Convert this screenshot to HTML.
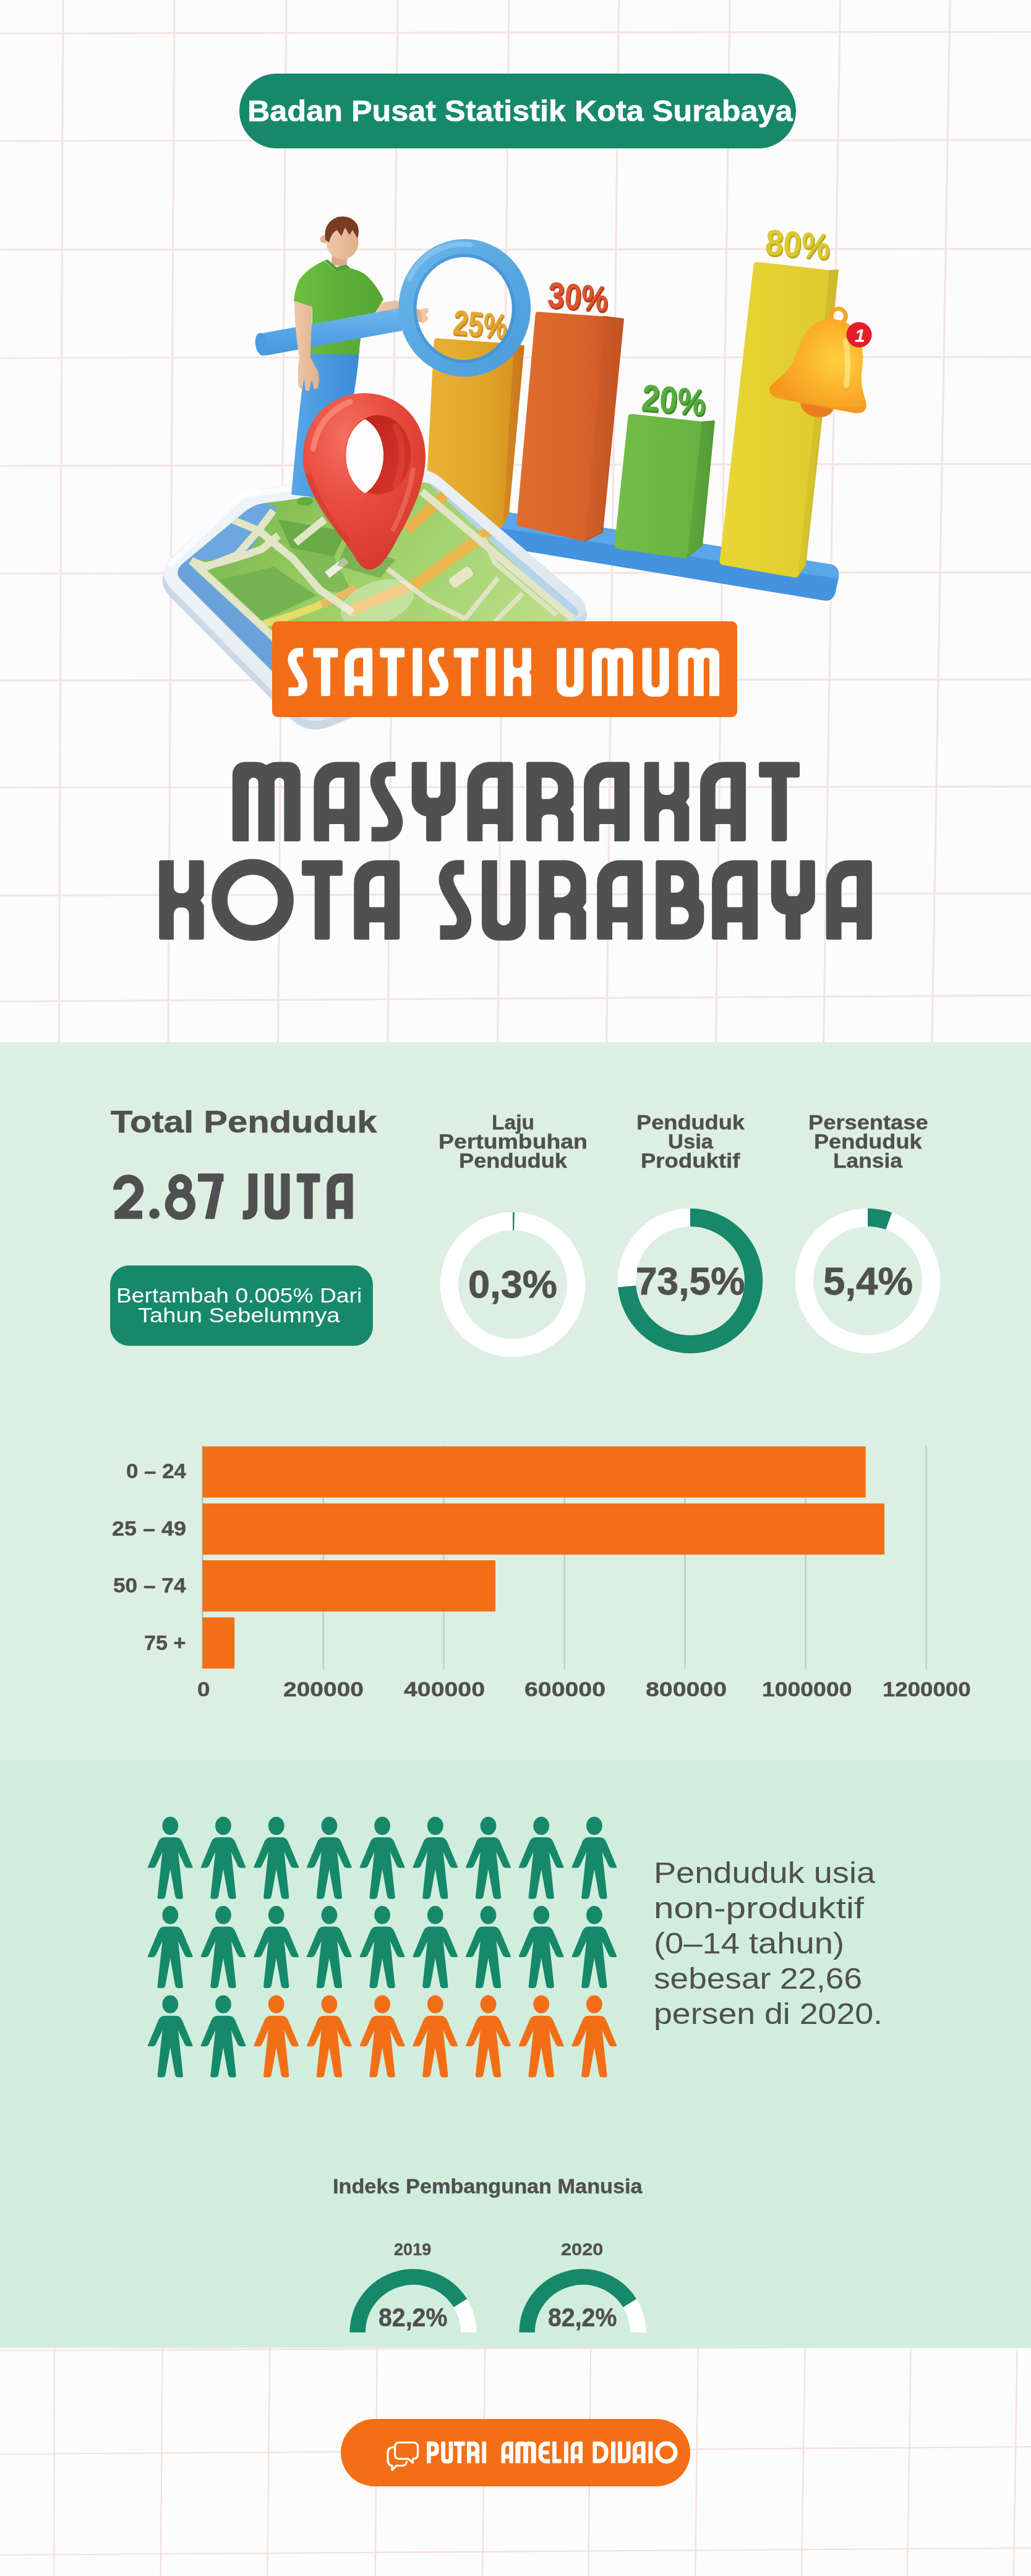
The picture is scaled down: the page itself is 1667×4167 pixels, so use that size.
<!DOCTYPE html>
<html lang="id"><head><meta charset="utf-8"><title>Statistik Umum Masyarakat Kota Surabaya</title>
<style>
html,body{margin:0;padding:0}
body{width:1667px;height:4167px;position:relative;overflow:hidden;background:#fdfcfc;font-family:"Liberation Sans",sans-serif}
.abs{position:absolute;display:block}
.t{position:absolute;white-space:nowrap;transform-origin:0 0;letter-spacing:0}
.b{-webkit-text-stroke:0.012em currentColor}
</style></head><body>
<svg class="abs" style="left:0;top:0;filter:blur(0.7px)" width="1667" height="1690" stroke="#f2e5e3" stroke-width="3.2"><line x1="101.9" y1="0" x2="95.2" y2="1690"/><line x1="282.0" y1="0" x2="271.9" y2="1690"/><line x1="463.0" y1="0" x2="449.5" y2="1690"/><line x1="643.0" y1="0" x2="627.0" y2="1690"/><line x1="823.1" y1="0" x2="804.7" y2="1690"/><line x1="1000.7" y1="0" x2="980.6" y2="1690"/><line x1="1180.1" y1="0" x2="1157.4" y2="1690"/><line x1="1358.5" y1="0" x2="1331.6" y2="1690"/><line x1="1536.1" y1="0" x2="1506.8" y2="1690"/><line x1="0" y1="54.0" x2="1667" y2="51.5"/><line x1="0" y1="228.0" x2="1667" y2="226.4"/><line x1="0" y1="404.0" x2="1667" y2="402.6"/><line x1="0" y1="579.0" x2="1667" y2="577.4"/><line x1="0" y1="754.0" x2="1667" y2="750.3"/><line x1="0" y1="928.0" x2="1667" y2="925.9"/><line x1="0" y1="1101.0" x2="1667" y2="1098.8"/><line x1="0" y1="1274.0" x2="1667" y2="1272.4"/><line x1="0" y1="1448.5" x2="1667" y2="1445.3"/><line x1="0" y1="1620.0" x2="1667" y2="1610.2"/></svg>
<svg class="abs" style="left:0;top:0;filter:blur(0.5px)" width="1667" height="4167" stroke="#f3dfdc" stroke-width="2.2"><line x1="88.1" y1="3797" x2="87.1" y2="4167"/><line x1="262.6" y1="3797" x2="259.7" y2="4167"/><line x1="436.3" y1="3797" x2="432.3" y2="4167"/><line x1="609.7" y1="3797" x2="606.8" y2="4167"/><line x1="784.2" y1="3797" x2="780.2" y2="4167"/><line x1="955.2" y1="3797" x2="951.4" y2="4167"/><line x1="1128.8" y1="3797" x2="1124.1" y2="4167"/><line x1="1301.7" y1="3797" x2="1295.9" y2="4167"/><line x1="1472.8" y1="3797" x2="1467.0" y2="4167"/><line x1="1644.7" y1="3797" x2="1638.9" y2="4167"/><line x1="0" y1="3802" x2="1667" y2="3796"/><line x1="0" y1="3970" x2="1667" y2="3958"/><line x1="0" y1="4133" x2="1667" y2="4121.7"/></svg>
<div class="abs" style="left:0;top:1686px;width:1667px;height:1160px;background:#ddefe3"></div>
<div class="abs" style="left:0;top:2846px;width:1667px;height:951.5px;background:#d1eedd"></div>
<div class="abs" style="left:387px;top:119px;width:900px;height:121px;border-radius:61px;background:#16896a"></div>
<div class="t  b" style="left:400.0px;top:156.1px;font-size:47.67px;line-height:47.67px;font-weight:700;color:#fff;transform:scaleX(1.0568)">Badan Pusat Statistik Kota Surabaya</div>
<svg class="abs" style="left:230px;top:330px" width="1220" height="870" viewBox="230 330 1220 870"><defs>
<linearGradient id="gYO" x1="0" y1="0" x2="1" y2="0"><stop offset="0" stop-color="#e9b236"/><stop offset="0.7" stop-color="#dfa42a"/><stop offset="1" stop-color="#d8951f"/></linearGradient>
<linearGradient id="gYOs" x1="0" y1="0" x2="1" y2="0"><stop offset="0" stop-color="#d68a22"/><stop offset="1" stop-color="#c8741e"/></linearGradient>
<linearGradient id="gOR" x1="0" y1="0" x2="1" y2="0"><stop offset="0" stop-color="#e06d2e"/><stop offset="0.8" stop-color="#d8632a"/><stop offset="1" stop-color="#cf5a26"/></linearGradient>
<linearGradient id="gORs" x1="0" y1="0" x2="1" y2="0"><stop offset="0" stop-color="#d05f28"/><stop offset="1" stop-color="#c25323"/></linearGradient>
<linearGradient id="gGR" x1="0" y1="0" x2="1" y2="0"><stop offset="0" stop-color="#74bd48"/><stop offset="1" stop-color="#68b241"/></linearGradient>
<linearGradient id="gGRs" x1="0" y1="0" x2="1" y2="0"><stop offset="0" stop-color="#60a83d"/><stop offset="1" stop-color="#539c36"/></linearGradient>
<linearGradient id="gYE" x1="0" y1="0" x2="1" y2="0"><stop offset="0" stop-color="#e8d634"/><stop offset="1" stop-color="#dfcb2e"/></linearGradient>
<linearGradient id="gYEs" x1="0" y1="0" x2="1" y2="0"><stop offset="0" stop-color="#dac72d"/><stop offset="1" stop-color="#cdb92a"/></linearGradient>
<linearGradient id="gRing" x1="0" y1="0" x2="1" y2="1"><stop offset="0" stop-color="#6bb6ea"/><stop offset="0.5" stop-color="#58a8e2"/><stop offset="1" stop-color="#4a9bdb"/></linearGradient>
<linearGradient id="gHandle" x1="0" y1="0" x2="0" y2="1"><stop offset="0" stop-color="#72b8ee"/><stop offset="0.5" stop-color="#58a6e5"/><stop offset="1" stop-color="#4796dc"/></linearGradient>
<linearGradient id="gShirt" x1="0" y1="0" x2="1" y2="0"><stop offset="0" stop-color="#6cc040"/><stop offset="0.5" stop-color="#5db038"/><stop offset="1" stop-color="#55a634"/></linearGradient>
<linearGradient id="gPants" x1="0" y1="0" x2="1" y2="0"><stop offset="0" stop-color="#58a7e8"/><stop offset="0.6" stop-color="#4697df"/><stop offset="1" stop-color="#3c8bd5"/></linearGradient>
<linearGradient id="gSkin" x1="0" y1="0" x2="1" y2="0"><stop offset="0" stop-color="#f0c9a8"/><stop offset="1" stop-color="#dfb08c"/></linearGradient>
<radialGradient id="gPin" cx="0.35" cy="0.25" r="0.9"><stop offset="0" stop-color="#f4705f"/><stop offset="0.45" stop-color="#e84a3c"/><stop offset="1" stop-color="#d1362b"/></radialGradient>
<linearGradient id="gPinIn" x1="0" y1="0" x2="1" y2="1"><stop offset="0" stop-color="#b82219"/><stop offset="1" stop-color="#d9372c"/></linearGradient>
<radialGradient id="gBell" cx="0.62" cy="0.45" r="0.75"><stop offset="0" stop-color="#ffd23f"/><stop offset="0.5" stop-color="#fbb02a"/><stop offset="1" stop-color="#f3931d"/></radialGradient>
<linearGradient id="gGlass" x1="0" y1="0" x2="1" y2="1"><stop offset="0" stop-color="#f4f7fa"/><stop offset="0.5" stop-color="#e6edf3"/><stop offset="1" stop-color="#d5dee8"/></linearGradient>
<linearGradient id="gMap" x1="0" y1="0" x2="1" y2="0.4"><stop offset="0" stop-color="#6fae46"/><stop offset="0.5" stop-color="#9ccf66"/><stop offset="1" stop-color="#b9dd86"/></linearGradient>
<linearGradient id="gBaseT" x1="0" y1="0" x2="1" y2="0"><stop offset="0" stop-color="#5ba6e6"/><stop offset="1" stop-color="#64aeea"/></linearGradient>
<clipPath id="cMap"><path d="M396.2,827.6Q410.0,816.0 427.8,813.7L680.1,780.8Q694.0,779.0 704.6,788.1L928.8,981.0Q944.0,994.0 925.1,1000.5L518.9,1139.5Q500.0,1146.0 485.9,1131.8L294.1,939.2Q280.0,925.0 295.3,912.1Z"/></clipPath>
</defs><path d="M780,822L1344,913Q1358,917 1356,934L1351,958Q1346,975 1330,971L780,880Z" fill="#4493de"/><path d="M780,822L1344,913Q1357,917 1355,936L780,850Z" fill="#5aa6e8"/><path d="M830.0,556.0L848.0,559.0L823.0,832.0L812.0,852.0Z" fill="url(#gYOs)" /><path d="M701.7,552.0Q702.0,547.0 707.0,547.3L826.0,555.7Q831.0,556.0 830.7,561.0L813.3,849.0Q813.0,854.0 808.0,854.0L691.0,854.0Q686.0,854.0 686.3,849.0Z" fill="url(#gYO)"/><path d="M976.0,512.0L1008.0,516.0L974.0,861.0L945.0,875.0Z" fill="url(#gORs)" stroke="#c25323" stroke-width="2" stroke-linejoin="round"/><path d="M865.6,509.0Q866.0,504.0 871.0,504.4L973.0,511.6Q978.0,512.0 977.6,517.0L946.4,871.0Q946.0,876.0 941.1,874.9L839.9,851.1Q835.0,850.0 835.4,845.0Z" fill="url(#gOR)"/><path d="M1133.0,683.0L1155.0,681.0L1135.0,882.0L1110.0,902.0Z" fill="url(#gGRs)" stroke="#539c36" stroke-width="2" stroke-linejoin="round"/><path d="M1015.4,675.0Q1016.0,669.0 1022.0,669.7L1129.0,681.3Q1135.0,682.0 1134.4,688.0L1111.6,898.0Q1111.0,904.0 1105.1,903.1L998.9,887.9Q993.0,887.0 993.6,881.0Z" fill="url(#gGR)"/><path d="M1339.0,438.0L1355.0,437.0L1302.0,914.0L1289.0,933.0Z" fill="url(#gYEs)" stroke="#cdb92a" stroke-width="2" stroke-linejoin="round"/><path d="M1218.3,429.0Q1219.0,423.0 1225.0,423.7L1335.0,436.3Q1341.0,437.0 1340.4,443.0L1290.6,929.0Q1290.0,935.0 1284.1,934.0L1168.9,914.0Q1163.0,913.0 1163.7,907.0Z" fill="url(#gYE)"/><g transform="translate(731,540) rotate(5) skewX(0)" font-family="Liberation Sans, sans-serif" font-weight="700" font-size="56" ><text x="2" y="3" fill="#c98a28" textLength="88" lengthAdjust="spacingAndGlyphs">25%</text><text x="1" y="1.5" fill="#c98a28" textLength="88" lengthAdjust="spacingAndGlyphs">25%</text><text x="0" y="0" fill="#e5a932" textLength="88" lengthAdjust="spacingAndGlyphs">25%</text></g><g transform="translate(884,496) rotate(4.5) skewX(0)" font-family="Liberation Sans, sans-serif" font-weight="700" font-size="58" ><text x="2" y="3" fill="#b23d20" textLength="98" lengthAdjust="spacingAndGlyphs">30%</text><text x="1" y="1.5" fill="#b23d20" textLength="98" lengthAdjust="spacingAndGlyphs">30%</text><text x="0" y="0" fill="#dc552e" textLength="98" lengthAdjust="spacingAndGlyphs">30%</text></g><g transform="translate(1036,663) rotate(5) skewX(0)" font-family="Liberation Sans, sans-serif" font-weight="700" font-size="60" ><text x="2" y="3" fill="#3e8d2e" textLength="104" lengthAdjust="spacingAndGlyphs">20%</text><text x="1" y="1.5" fill="#3e8d2e" textLength="104" lengthAdjust="spacingAndGlyphs">20%</text><text x="0" y="0" fill="#58ad3c" textLength="104" lengthAdjust="spacingAndGlyphs">20%</text></g><g transform="translate(1236,411) rotate(4.5) skewX(0)" font-family="Liberation Sans, sans-serif" font-weight="700" font-size="58" ><text x="2" y="3" fill="#bba927" textLength="105" lengthAdjust="spacingAndGlyphs">80%</text><text x="1" y="1.5" fill="#bba927" textLength="105" lengthAdjust="spacingAndGlyphs">80%</text><text x="0" y="0" fill="#dcc92f" textLength="105" lengthAdjust="spacingAndGlyphs">80%</text></g><path d="M363.3,835.8Q397.0,806.0 441.6,800.1L662.3,770.9Q692.0,767.0 714.9,786.4L935.5,974.1Q966.0,1000.0 928.9,1015.0L534.1,1175.0Q497.0,1190.0 468.9,1161.5L276.1,966.5Q248.0,938.0 277.9,911.5Z" fill="#ccd8e3"/><path d="M363.4,823.9Q397.0,794.0 441.6,788.1L662.3,758.9Q692.0,755.0 714.8,774.5L933.6,962.0Q964.0,988.0 926.9,1002.9L534.1,1161.1Q497.0,1176.0 468.9,1147.5L278.1,953.5Q250.0,925.0 279.9,898.4Z" fill="url(#gGlass)"/><path d="M396.2,827.6Q410.0,816.0 427.8,813.7L680.1,780.8Q694.0,779.0 704.6,788.1L928.8,981.0Q944.0,994.0 925.1,1000.5L518.9,1139.5Q500.0,1146.0 485.9,1131.8L294.1,939.2Q280.0,925.0 295.3,912.1Z" fill="url(#gMap)"/><g clip-path="url(#cMap)"><path d="M400.0,806.0L448.0,820.0L430.0,852.0L410.0,882.0L390.0,906.0L312.0,906.0L272.0,925.0Z" fill="#6da7df" /><path d="M272.0,925.0L309.0,905.0L436.0,1025.0L470.0,1150.0L272.0,945.0Z" fill="#6aa2da" /><path d="M686.0,775.0L700.0,775.0L950.0,990.0L930.0,1004.0Z" fill="#b5d3ea" /><path d="M355.0,938.0L442.0,917.0L512.0,963.0L424.0,1004.0Z" fill="#74b350" /><path d="M450.0,840.0L560.0,860.0L540.0,900.0L470.0,886.0Z" fill="#6aab48" /><path d="M470.0,886.0L540.0,900.0L570.0,960.0L520.0,955.0Z" fill="#80bb58" /><path d="M719,801L658,858" stroke="#eab04c" stroke-width="17" fill="none"/><path d="M792,858L674,944L560,990" stroke="#ecb650" stroke-width="18" fill="none" stroke-linejoin="round"/><path d="M424,1010Q500,990 570,954" stroke="#e6dc68" stroke-width="12" fill="none"/><path d="M520,978Q548,968 575,950" stroke="#e9b865" stroke-width="12" fill="none"/><path d="M374,840L418,858L474,904L517,954L570,991" stroke="#e2e5c6" stroke-width="12" fill="none" stroke-linecap="butt" stroke-linejoin="round"/><path d="M442,826L418,858L383,898L334,917L309,907" stroke="#e2e5c6" stroke-width="12" fill="none" stroke-linecap="butt" stroke-linejoin="round"/><path d="M309,907L436,1025L470,1060" stroke="#e2e5c6" stroke-width="12" fill="none" stroke-linecap="butt" stroke-linejoin="round"/><path d="M330,916Q380,905 424,888L450,866" stroke="#e2e5c6" stroke-width="12" fill="none" stroke-linecap="butt" stroke-linejoin="round"/><path d="M525,840L478,878" stroke="#e2e5c6" stroke-width="12" fill="none" stroke-linecap="butt" stroke-linejoin="round"/><path d="M682,795L926,1001" stroke="#e2e5c6" stroke-width="12" fill="none" stroke-linecap="butt" stroke-linejoin="round"/><path d="M782,870L800,910L835,940L900,995" stroke="#dfe3c2" stroke-width="8" fill="none" stroke-linejoin="round"/><path d="M625,919L694,972L752,1001" stroke="#dfe3c2" stroke-width="8" fill="none" stroke-linejoin="round"/><path d="M805,935L752,1001" stroke="#dfe3c2" stroke-width="8" fill="none"/><path d="M845,960L800,1006" stroke="#dfe3c2" stroke-width="8" fill="none"/><path d="M529,930L560,906" stroke="#eef0dd" stroke-width="12" fill="none"/><rect x="-20" y="-9" width="40" height="18" rx="5" fill="#e6e8c6" transform="translate(745.5,933.5) rotate(-35)"/><ellipse cx="610" cy="975" rx="62" ry="34" fill="#ffffff" opacity="0.32" transform="rotate(-20 610 975)"/><path d="M560,880L640,905L615,935L545,915Z" fill="#3f7a2c" opacity="0.35"/></g><path d="M276,912L388,806Q398,798 414,798L470,790" stroke="#ffffff" stroke-width="9" fill="none" opacity="0.75" stroke-linecap="round" stroke-linejoin="round"/><ellipse cx="493" cy="811" rx="13" ry="7" fill="#5db038"/><path d="M499,566L581,566Q578,610 568,660L545,800L520,806L471,800Q480,700 488,632Z" fill="url(#gPants)"/><path d="M537,408L562,412L560,432L536,428Z" fill="#dca987"/><path d="M604,492L640,486L684,503Q694,512 684,522L640,512L610,508Z" fill="url(#gSkin)"/><path d="M680,500L692,498L693,504L688,510L693,514L690,520L683,524Z" fill="#f0c9a8"/><path d="M524,422Q500,432 484,452Q476,470 475,488L505,497Q506,540 499,572L580,574Q584,545 585,516L604,510L620,484Q606,456 588,442Q576,436 567,434L545,440Z" fill="url(#gShirt)"/><path d="M524,421L545,440L567,434L560,428L544,432L530,420Z" fill="#52a231"/><circle cx="524" cy="387" r="6.5" fill="#e2b592"/><ellipse cx="553.5" cy="392" rx="26" ry="27.5" fill="url(#gSkin)"/><path d="M526,388Q522,360 546,351Q568,347 578,364Q582,374 578,386Q574,378 570,372L565,380L558,368L552,382L545,372Q536,376 532,392Z" fill="#7b3b22"/><path d="M424,539L648,498L650,535L430,575Q416,574 414,558Q414,543 424,539Z" fill="url(#gHandle)" transform="translate(0,0)"/><ellipse cx="423" cy="557" rx="10" ry="18.5" fill="#4d9be0" transform="rotate(-10 423 557)"/><path d="M476,487L505,496Q503,540 502,578L514,600Q518,612 514,628L508,630L504,614L500,632L494,632L492,612L488,630L483,626Q480,600 484,578Q476,530 476,487Z" fill="url(#gSkin)"/><path fill-rule="evenodd" fill="url(#gRing)" d="M644.5,498A106.8,111.2 0 1 0 858.1,498A106.8,111.2 0 1 0 644.5,498ZM673.6,499A77.1,83 0 1 1 827.8,499A77.1,83 0 1 1 673.6,499Z"/><ellipse cx="750.7" cy="499" rx="80" ry="86" fill="none" stroke="#3f8bd0" stroke-width="5" opacity="0.55"/><path d="M662,450A95,99 0 0 1 760,396" fill="none" stroke="#8ac6f3" stroke-width="9" stroke-linecap="round" opacity="0.7"/><path d="M589,636C648,636 690,682 688,742C686,792 662,836 638,880Q620,914 604,920Q590,926 578,908C556,868 494,806 490,746C487,684 530,636 589,636Z" fill="url(#gPin)"/><ellipse cx="611.5" cy="735.5" rx="53" ry="64" fill="url(#gPinIn)"/><path d="M640,690Q660,735 640,785" fill="none" stroke="#e04a3e" stroke-width="10" opacity="0.5" stroke-linecap="round"/><path d="M590,678C630,700 630,772 590,798C549,772 549,700 590,678Z" fill="#fefcfc"/><path d="M506,726Q516,670 566,650" fill="none" stroke="#f98e7d" stroke-width="9" stroke-linecap="round" opacity="0.75"/><path d="M668,760Q660,810 636,856" fill="none" stroke="#f47a69" stroke-width="8" stroke-linecap="round" opacity="0.55"/><path d="M500,770Q520,830 560,872" fill="none" stroke="#c9302a" stroke-width="10" stroke-linecap="round" opacity="0.35"/><g transform="rotate(11 1330 590)"><circle cx="1340" cy="508" r="12" fill="none" stroke="#f7a325" stroke-width="7"/><ellipse cx="1334" cy="656" rx="27" ry="19" fill="#ea7e1c"/><path d="M1340,514C1380,514 1392,550 1394,585C1396,615 1408,628 1412,640Q1414,654 1396,656L1268,656Q1250,654 1254,640C1262,626 1280,612 1284,585C1288,548 1300,514 1340,514Z" fill="url(#gBell)"/><path d="M1256,642Q1330,668 1412,642Q1414,654 1396,657L1268,657Q1252,655 1256,642Z" fill="#f39a1f"/><path d="M1360,545Q1372,580 1374,615" fill="none" stroke="#ffe58a" stroke-width="9" stroke-linecap="round" opacity="0.75"/></g><circle cx="1389" cy="541.5" r="20.5" fill="#e31e26"/><text x="1382" y="553" font-family="Liberation Sans, sans-serif" font-weight="700" font-style="italic" font-size="30" fill="#fff">1</text></svg>
<div class="abs" style="left:440px;top:1005px;width:752px;height:154.5px;border-radius:9px;background:#f36f17"></div>
<svg class="abs" style="left:450px;top:1040px" width="730" height="95" viewBox="450 1040 730 95" fill="#fff" role="img" aria-label="STATISTIK UMUM"><title>STATISTIK UMUM</title><g transform="translate(464.9,1048.2) scale(0.6050,0.6050)"><path d="M41.5,11.5H30C18,11.5 12,22 12.5,33C13,43 20,53 27,65C34,77 41.5,85 41.5,97C41.5,109 34,117 24,117H2.6" fill="none" stroke="#fff" stroke-width="23.5" stroke-linejoin="round"/></g><g transform="translate(506.5,1048.2) scale(0.6050,0.6050)"><path d="M3.5,0H62.5A3.5,3.5 0 0 1 66,3.5V21.9A3.5,3.5 0 0 1 62.5,25.4H3.5A3.5,3.5 0 0 1 0,21.9V3.5A3.5,3.5 0 0 1 3.5,0ZM24.3,0H41.8A3.5,3.5 0 0 1 45.3,3.5V125.1A3.5,3.5 0 0 1 41.8,128.6H24.3A3.5,3.5 0 0 1 20.8,125.1V3.5A3.5,3.5 0 0 1 24.3,0Z"/></g><g transform="translate(557.3,1048.2) scale(0.6050,0.6050)"><path d="M36,0H69A5,5 0 0 1 74,5V125.1A3.5,3.5 0 0 1 70.5,128.6H3.5A3.5,3.5 0 0 1 0,125.1V36A36,36 0 0 1 36,0ZM39.7,25.5A15,15 0 0 0 24.7,40.5V74A2,2 0 0 0 26.7,76H47.3A2,2 0 0 0 49.3,74V27.5A2,2 0 0 0 47.3,25.5ZM26.7,100.5A2,2 0 0 0 24.7,102.5V128.6H49.3V102.5A2,2 0 0 0 47.3,100.5Z"/></g><g transform="translate(614.3,1048.2) scale(0.6050,0.6050)"><path d="M3.5,0H62.5A3.5,3.5 0 0 1 66,3.5V21.9A3.5,3.5 0 0 1 62.5,25.4H3.5A3.5,3.5 0 0 1 0,21.9V3.5A3.5,3.5 0 0 1 3.5,0ZM24.3,0H41.8A3.5,3.5 0 0 1 45.3,3.5V125.1A3.5,3.5 0 0 1 41.8,128.6H24.3A3.5,3.5 0 0 1 20.8,125.1V3.5A3.5,3.5 0 0 1 24.3,0Z"/></g><g transform="translate(667.3,1048.2) scale(0.6050,0.6050)"><path d="M3.5,0H21.4A3.5,3.5 0 0 1 24.9,3.5V125.1A3.5,3.5 0 0 1 21.4,128.6H3.5A3.5,3.5 0 0 1 0,125.1V3.5A3.5,3.5 0 0 1 3.5,0Z"/></g><g transform="translate(693,1048.2) scale(0.6050,0.6050)"><path d="M41.5,11.5H30C18,11.5 12,22 12.5,33C13,43 20,53 27,65C34,77 41.5,85 41.5,97C41.5,109 34,117 24,117H2.6" fill="none" stroke="#fff" stroke-width="23.5" stroke-linejoin="round"/></g><g transform="translate(733.6,1048.2) scale(0.6050,0.6050)"><path d="M3.5,0H62.5A3.5,3.5 0 0 1 66,3.5V21.9A3.5,3.5 0 0 1 62.5,25.4H3.5A3.5,3.5 0 0 1 0,21.9V3.5A3.5,3.5 0 0 1 3.5,0ZM24.3,0H41.8A3.5,3.5 0 0 1 45.3,3.5V125.1A3.5,3.5 0 0 1 41.8,128.6H24.3A3.5,3.5 0 0 1 20.8,125.1V3.5A3.5,3.5 0 0 1 24.3,0Z"/></g><g transform="translate(786,1048.2) scale(0.6050,0.6050)"><path d="M3.5,0H21.4A3.5,3.5 0 0 1 24.9,3.5V125.1A3.5,3.5 0 0 1 21.4,128.6H3.5A3.5,3.5 0 0 1 0,125.1V3.5A3.5,3.5 0 0 1 3.5,0Z"/></g><g transform="translate(815,1048.2) scale(0.6050,0.6050)"><path d="M3.5,0H69A3.5,3.5 0 0 1 72.5,3.5V125.1A3.5,3.5 0 0 1 69,128.6H3.5A3.5,3.5 0 0 1 0,125.1V3.5A3.5,3.5 0 0 1 3.5,0ZM23.7,0V43.5A10,10 0 0 0 33.7,53.5H38.4A10,10 0 0 0 48.4,43.5V0ZM33.7,76.6A10,10 0 0 0 23.7,86.6V128.6H48.4V86.6A10,10 0 0 0 38.4,76.6ZM72.5,57L67,65L72.5,73Z"/></g><g transform="translate(900.4,1048.2) scale(0.6050,0.6050)"><path d="M3.5,0H67.5A3.5,3.5 0 0 1 71,3.5V104.1A26,26 0 0 1 45,130.1H26A26,26 0 0 1 0,104.1V3.5A3.5,3.5 0 0 1 3.5,0ZM24.8,0V94.9A10.7,10.7 0 0 0 35.5,105.6H35.5A10.7,10.7 0 0 0 46.2,94.9V0Z"/></g><g transform="translate(957.1,1048.2) scale(0.6050,0.6050)"><path d="M20,0H38.2A30,30 0 0 1 68.2,30V125.1A3.5,3.5 0 0 1 64.7,128.6H3.5A3.5,3.5 0 0 1 0,125.1V20A20,20 0 0 1 20,0ZM71.8,0H90A20,20 0 0 1 110,20V125.1A3.5,3.5 0 0 1 106.5,128.6H45.3A3.5,3.5 0 0 1 41.8,125.1V30A30,30 0 0 1 71.8,0ZM34.1,25.5A7.7,7.7 0 0 0 26.4,33.2V128.6H41.8V33.2A7.7,7.7 0 0 0 34.1,25.5ZM75.9,25.5A7.7,7.7 0 0 0 68.2,33.2V128.6H83.6V33.2A7.7,7.7 0 0 0 75.9,25.5Z"/></g><g transform="translate(1038.6,1048.2) scale(0.6050,0.6050)"><path d="M3.5,0H67.5A3.5,3.5 0 0 1 71,3.5V104.1A26,26 0 0 1 45,130.1H26A26,26 0 0 1 0,104.1V3.5A3.5,3.5 0 0 1 3.5,0ZM24.8,0V94.9A10.7,10.7 0 0 0 35.5,105.6H35.5A10.7,10.7 0 0 0 46.2,94.9V0Z"/></g><g transform="translate(1096.5,1048.2) scale(0.6050,0.6050)"><path d="M20,0H38.2A30,30 0 0 1 68.2,30V125.1A3.5,3.5 0 0 1 64.7,128.6H3.5A3.5,3.5 0 0 1 0,125.1V20A20,20 0 0 1 20,0ZM71.8,0H90A20,20 0 0 1 110,20V125.1A3.5,3.5 0 0 1 106.5,128.6H45.3A3.5,3.5 0 0 1 41.8,125.1V30A30,30 0 0 1 71.8,0ZM34.1,25.5A7.7,7.7 0 0 0 26.4,33.2V128.6H41.8V33.2A7.7,7.7 0 0 0 34.1,25.5ZM75.9,25.5A7.7,7.7 0 0 0 68.2,33.2V128.6H83.6V33.2A7.7,7.7 0 0 0 75.9,25.5Z"/></g></svg>
<svg class="abs" style="left:360px;top:1220px" width="950" height="150" viewBox="360 1220 950 150" fill="#505050" role="img" aria-label="MASYARAKAT"><title>MASYARAKAT</title><g transform="translate(375.8,1232.4) scale(1.0000,1.0000)"><path d="M20,0H38.2A30,30 0 0 1 68.2,30V125.1A3.5,3.5 0 0 1 64.7,128.6H3.5A3.5,3.5 0 0 1 0,125.1V20A20,20 0 0 1 20,0ZM71.8,0H90A20,20 0 0 1 110,20V125.1A3.5,3.5 0 0 1 106.5,128.6H45.3A3.5,3.5 0 0 1 41.8,125.1V30A30,30 0 0 1 71.8,0ZM34.1,25.5A7.7,7.7 0 0 0 26.4,33.2V128.6H41.8V33.2A7.7,7.7 0 0 0 34.1,25.5ZM75.9,25.5A7.7,7.7 0 0 0 68.2,33.2V128.6H83.6V33.2A7.7,7.7 0 0 0 75.9,25.5Z"/></g><g transform="translate(507.4,1232.4) scale(1.0000,1.0000)"><path d="M36,0H69A5,5 0 0 1 74,5V125.1A3.5,3.5 0 0 1 70.5,128.6H3.5A3.5,3.5 0 0 1 0,125.1V36A36,36 0 0 1 36,0ZM39.7,25.5A15,15 0 0 0 24.7,40.5V74A2,2 0 0 0 26.7,76H47.3A2,2 0 0 0 49.3,74V27.5A2,2 0 0 0 47.3,25.5ZM26.7,100.5A2,2 0 0 0 24.7,102.5V128.6H49.3V102.5A2,2 0 0 0 47.3,100.5Z"/></g><g transform="translate(598,1232.4) scale(1.0000,1.0000)"><path d="M41.5,11.5H30C18,11.5 12,22 12.5,33C13,43 20,53 27,65C34,77 41.5,85 41.5,97C41.5,109 34,117 24,117H2.6" fill="none" stroke="#505050" stroke-width="23.5" stroke-linejoin="round"/></g><g transform="translate(665.7,1232.4) scale(1.0000,1.0000)"><path d="M3.5,0H67.5A3.5,3.5 0 0 1 71,3.5V62A26,26 0 0 1 45,88H26A26,26 0 0 1 0,62V3.5A3.5,3.5 0 0 1 3.5,0ZM23.3,58H47.7V125.1A3.5,3.5 0 0 1 44.2,128.6H26.8A3.5,3.5 0 0 1 23.3,125.1V58ZM24.4,0V49A11,11 0 0 0 35.4,60H35.6A11,11 0 0 0 46.6,49V0Z"/></g><g transform="translate(755.5,1232.4) scale(1.0000,1.0000)"><path d="M36,0H69A5,5 0 0 1 74,5V125.1A3.5,3.5 0 0 1 70.5,128.6H3.5A3.5,3.5 0 0 1 0,125.1V36A36,36 0 0 1 36,0ZM39.7,25.5A15,15 0 0 0 24.7,40.5V74A2,2 0 0 0 26.7,76H47.3A2,2 0 0 0 49.3,74V27.5A2,2 0 0 0 47.3,25.5ZM26.7,100.5A2,2 0 0 0 24.7,102.5V128.6H49.3V102.5A2,2 0 0 0 47.3,100.5Z"/></g><g transform="translate(851,1232.4) scale(1.0000,1.0000)"><path d="M3.5,0H43.5A33,33 0 0 1 76.5,33V125.1A3.5,3.5 0 0 1 73,128.6H3.5A3.5,3.5 0 0 1 0,125.1V3.5A3.5,3.5 0 0 1 3.5,0ZM26.7,25.5A2,2 0 0 0 24.7,27.5V58A2,2 0 0 0 26.7,60H35.2A16,16 0 0 0 51.2,44V41.5A16,16 0 0 0 35.2,25.5ZM33.7,85A9,9 0 0 0 24.7,94V128.6H51.2V94A9,9 0 0 0 42.2,85ZM76.5,69L71,76.5L76.5,84Z"/></g><g transform="translate(944,1232.4) scale(1.0000,1.0000)"><path d="M36,0H69A5,5 0 0 1 74,5V125.1A3.5,3.5 0 0 1 70.5,128.6H3.5A3.5,3.5 0 0 1 0,125.1V36A36,36 0 0 1 36,0ZM39.7,25.5A15,15 0 0 0 24.7,40.5V74A2,2 0 0 0 26.7,76H47.3A2,2 0 0 0 49.3,74V27.5A2,2 0 0 0 47.3,25.5ZM26.7,100.5A2,2 0 0 0 24.7,102.5V128.6H49.3V102.5A2,2 0 0 0 47.3,100.5Z"/></g><g transform="translate(1041.8,1232.4) scale(1.0000,1.0000)"><path d="M3.5,0H69A3.5,3.5 0 0 1 72.5,3.5V125.1A3.5,3.5 0 0 1 69,128.6H3.5A3.5,3.5 0 0 1 0,125.1V3.5A3.5,3.5 0 0 1 3.5,0ZM23.7,0V43.5A10,10 0 0 0 33.7,53.5H38.4A10,10 0 0 0 48.4,43.5V0ZM33.7,76.6A10,10 0 0 0 23.7,86.6V128.6H48.4V86.6A10,10 0 0 0 38.4,76.6ZM72.5,57L67,65L72.5,73Z"/></g><g transform="translate(1132,1232.4) scale(1.0000,1.0000)"><path d="M36,0H69A5,5 0 0 1 74,5V125.1A3.5,3.5 0 0 1 70.5,128.6H3.5A3.5,3.5 0 0 1 0,125.1V36A36,36 0 0 1 36,0ZM39.7,25.5A15,15 0 0 0 24.7,40.5V74A2,2 0 0 0 26.7,76H47.3A2,2 0 0 0 49.3,74V27.5A2,2 0 0 0 47.3,25.5ZM26.7,100.5A2,2 0 0 0 24.7,102.5V128.6H49.3V102.5A2,2 0 0 0 47.3,100.5Z"/></g><g transform="translate(1227,1232.4) scale(1.0000,1.0000)"><path d="M3.5,0H62.5A3.5,3.5 0 0 1 66,3.5V21.9A3.5,3.5 0 0 1 62.5,25.4H3.5A3.5,3.5 0 0 1 0,21.9V3.5A3.5,3.5 0 0 1 3.5,0ZM24.3,0H41.8A3.5,3.5 0 0 1 45.3,3.5V125.1A3.5,3.5 0 0 1 41.8,128.6H24.3A3.5,3.5 0 0 1 20.8,125.1V3.5A3.5,3.5 0 0 1 24.3,0Z"/></g></svg>
<svg class="abs" style="left:245px;top:1380px" width="1180" height="150" viewBox="245 1380 1180 150" fill="#505050" role="img" aria-label="KOTA SURABAYA"><title>KOTA SURABAYA</title><g transform="translate(257.2,1391.4) scale(1.0000,1.0000)"><path d="M3.5,0H69A3.5,3.5 0 0 1 72.5,3.5V125.1A3.5,3.5 0 0 1 69,128.6H3.5A3.5,3.5 0 0 1 0,125.1V3.5A3.5,3.5 0 0 1 3.5,0ZM23.7,0V43.5A10,10 0 0 0 33.7,53.5H38.4A10,10 0 0 0 48.4,43.5V0ZM33.7,76.6A10,10 0 0 0 23.7,86.6V128.6H48.4V86.6A10,10 0 0 0 38.4,76.6ZM72.5,57L67,65L72.5,73Z"/></g><g transform="translate(342.2,1391.4) scale(1.0000,1.0000)"><circle cx="66.3" cy="64.3" r="53.5" fill="none" stroke="#505050" stroke-width="25.6"/></g><g transform="translate(488,1391.4) scale(1.0000,1.0000)"><path d="M3.5,0H62.5A3.5,3.5 0 0 1 66,3.5V21.9A3.5,3.5 0 0 1 62.5,25.4H3.5A3.5,3.5 0 0 1 0,21.9V3.5A3.5,3.5 0 0 1 3.5,0ZM24.3,0H41.8A3.5,3.5 0 0 1 45.3,3.5V125.1A3.5,3.5 0 0 1 41.8,128.6H24.3A3.5,3.5 0 0 1 20.8,125.1V3.5A3.5,3.5 0 0 1 24.3,0Z"/></g><g transform="translate(572.3,1391.4) scale(1.0000,1.0000)"><path d="M36,0H69A5,5 0 0 1 74,5V125.1A3.5,3.5 0 0 1 70.5,128.6H3.5A3.5,3.5 0 0 1 0,125.1V36A36,36 0 0 1 36,0ZM39.7,25.5A15,15 0 0 0 24.7,40.5V74A2,2 0 0 0 26.7,76H47.3A2,2 0 0 0 49.3,74V27.5A2,2 0 0 0 47.3,25.5ZM26.7,100.5A2,2 0 0 0 24.7,102.5V128.6H49.3V102.5A2,2 0 0 0 47.3,100.5Z"/></g><g transform="translate(708.9,1391.4) scale(1.0000,1.0000)"><path d="M41.5,11.5H30C18,11.5 12,22 12.5,33C13,43 20,53 27,65C34,77 41.5,85 41.5,97C41.5,109 34,117 24,117H2.6" fill="none" stroke="#505050" stroke-width="23.5" stroke-linejoin="round"/></g><g transform="translate(779,1391.4) scale(1.0000,1.0000)"><path d="M3.5,0H67.5A3.5,3.5 0 0 1 71,3.5V104.1A26,26 0 0 1 45,130.1H26A26,26 0 0 1 0,104.1V3.5A3.5,3.5 0 0 1 3.5,0ZM24.8,0V94.9A10.7,10.7 0 0 0 35.5,105.6H35.5A10.7,10.7 0 0 0 46.2,94.9V0Z"/></g><g transform="translate(871.3,1391.4) scale(1.0000,1.0000)"><path d="M3.5,0H43.5A33,33 0 0 1 76.5,33V125.1A3.5,3.5 0 0 1 73,128.6H3.5A3.5,3.5 0 0 1 0,125.1V3.5A3.5,3.5 0 0 1 3.5,0ZM26.7,25.5A2,2 0 0 0 24.7,27.5V58A2,2 0 0 0 26.7,60H35.2A16,16 0 0 0 51.2,44V41.5A16,16 0 0 0 35.2,25.5ZM33.7,85A9,9 0 0 0 24.7,94V128.6H51.2V94A9,9 0 0 0 42.2,85ZM76.5,69L71,76.5L76.5,84Z"/></g><g transform="translate(965.3,1391.4) scale(1.0000,1.0000)"><path d="M36,0H69A5,5 0 0 1 74,5V125.1A3.5,3.5 0 0 1 70.5,128.6H3.5A3.5,3.5 0 0 1 0,125.1V36A36,36 0 0 1 36,0ZM39.7,25.5A15,15 0 0 0 24.7,40.5V74A2,2 0 0 0 26.7,76H47.3A2,2 0 0 0 49.3,74V27.5A2,2 0 0 0 47.3,25.5ZM26.7,100.5A2,2 0 0 0 24.7,102.5V128.6H49.3V102.5A2,2 0 0 0 47.3,100.5Z"/></g><g transform="translate(1060.3,1391.4) scale(1.0000,1.0000)"><path d="M3.5,0H40A30,30 0 0 1 70,30V64A8,8 0 0 1 62,72H0V3.5A3.5,3.5 0 0 1 3.5,0ZM0,62H64A14,14 0 0 1 78,76V95.6A33,33 0 0 1 45,128.6H3.5A3.5,3.5 0 0 1 0,125.1V62ZM26.4,24.7A2,2 0 0 0 24.4,26.7V50.7A2,2 0 0 0 26.4,52.7H32.2A13,13 0 0 0 45.2,39.7V37.7A13,13 0 0 0 32.2,24.7ZM26.4,75.9A2,2 0 0 0 24.4,77.9V101.9A2,2 0 0 0 26.4,103.9H39.4A14,14 0 0 0 53.4,89.9V89.9A14,14 0 0 0 39.4,75.9Z"/></g><g transform="translate(1151.1,1391.4) scale(1.0000,1.0000)"><path d="M36,0H69A5,5 0 0 1 74,5V125.1A3.5,3.5 0 0 1 70.5,128.6H3.5A3.5,3.5 0 0 1 0,125.1V36A36,36 0 0 1 36,0ZM39.7,25.5A15,15 0 0 0 24.7,40.5V74A2,2 0 0 0 26.7,76H47.3A2,2 0 0 0 49.3,74V27.5A2,2 0 0 0 47.3,25.5ZM26.7,100.5A2,2 0 0 0 24.7,102.5V128.6H49.3V102.5A2,2 0 0 0 47.3,100.5Z"/></g><g transform="translate(1246.8,1391.4) scale(1.0000,1.0000)"><path d="M3.5,0H67.5A3.5,3.5 0 0 1 71,3.5V62A26,26 0 0 1 45,88H26A26,26 0 0 1 0,62V3.5A3.5,3.5 0 0 1 3.5,0ZM23.3,58H47.7V125.1A3.5,3.5 0 0 1 44.2,128.6H26.8A3.5,3.5 0 0 1 23.3,125.1V58ZM24.4,0V49A11,11 0 0 0 35.4,60H35.6A11,11 0 0 0 46.6,49V0Z"/></g><g transform="translate(1335.8,1391.4) scale(1.0000,1.0000)"><path d="M36,0H69A5,5 0 0 1 74,5V125.1A3.5,3.5 0 0 1 70.5,128.6H3.5A3.5,3.5 0 0 1 0,125.1V36A36,36 0 0 1 36,0ZM39.7,25.5A15,15 0 0 0 24.7,40.5V74A2,2 0 0 0 26.7,76H47.3A2,2 0 0 0 49.3,74V27.5A2,2 0 0 0 47.3,25.5ZM26.7,100.5A2,2 0 0 0 24.7,102.5V128.6H49.3V102.5A2,2 0 0 0 47.3,100.5Z"/></g></svg>
<div class="t  b" style="left:178.9px;top:1789.8px;font-size:50.58px;line-height:50.58px;font-weight:700;color:#505050;transform:scaleX(1.1464)">Total Penduduk</div>
<svg class="abs" style="left:175px;top:1890px" width="410" height="90" viewBox="175 1890 410 90" fill="#505050" role="img" aria-label="2.87 JUTA"><title>2.87 JUTA</title><g transform="translate(183.1,1898.3) scale(0.5715,0.5715)"><path d="M12,46A30.9,30.9 0 0 1 73.8,46C73.8,62 60,72 12,118" fill="none" stroke="#505050" stroke-width="24.2" stroke-linejoin="round"/><path d="M4,116.7H82" fill="none" stroke="#505050" stroke-width="23.8" stroke-linejoin="round"/></g><g transform="translate(241.2,1898.3) scale(0.5715,0.5715)"><circle cx="14.65" cy="113.95" r="14.65"/></g><g transform="translate(266.7,1898.3) scale(0.5715,0.5715)"><circle cx="43.2" cy="35" r="22.2" fill="none" stroke="#505050" stroke-width="22.3"/><circle cx="43.2" cy="88.3" r="31.9" fill="none" stroke="#505050" stroke-width="22.6"/></g><g transform="translate(320,1898.3) scale(0.5715,0.5715)"><path d="M3.5,0H69.1A3.5,3.5 0 0 1 72.6,3.5V23.2H0V3.5A3.5,3.5 0 0 1 3.5,0ZM46.5,10L72.6,2L47,128.6H20Z"/></g><g transform="translate(392.6,1898.3) scale(0.5715,0.5715)"><path d="M28.6,0V96Q28.6,117.5 8,117.5H0" fill="none" stroke="#505050" stroke-width="25.5" stroke-linejoin="round"/></g><g transform="translate(427.9,1898.3) scale(0.5715,0.5715)"><path d="M3.5,0H67.5A3.5,3.5 0 0 1 71,3.5V104.1A26,26 0 0 1 45,130.1H26A26,26 0 0 1 0,104.1V3.5A3.5,3.5 0 0 1 3.5,0ZM24.8,0V94.9A10.7,10.7 0 0 0 35.5,105.6H35.5A10.7,10.7 0 0 0 46.2,94.9V0Z"/></g><g transform="translate(479.8,1898.3) scale(0.5715,0.5715)"><path d="M3.5,0H62.5A3.5,3.5 0 0 1 66,3.5V21.9A3.5,3.5 0 0 1 62.5,25.4H3.5A3.5,3.5 0 0 1 0,21.9V3.5A3.5,3.5 0 0 1 3.5,0ZM24.3,0H41.8A3.5,3.5 0 0 1 45.3,3.5V125.1A3.5,3.5 0 0 1 41.8,128.6H24.3A3.5,3.5 0 0 1 20.8,125.1V3.5A3.5,3.5 0 0 1 24.3,0Z"/></g><g transform="translate(528.3,1898.3) scale(0.5715,0.5715)"><path d="M36,0H69A5,5 0 0 1 74,5V125.1A3.5,3.5 0 0 1 70.5,128.6H3.5A3.5,3.5 0 0 1 0,125.1V36A36,36 0 0 1 36,0ZM39.7,25.5A15,15 0 0 0 24.7,40.5V74A2,2 0 0 0 26.7,76H47.3A2,2 0 0 0 49.3,74V27.5A2,2 0 0 0 47.3,25.5ZM26.7,100.5A2,2 0 0 0 24.7,102.5V128.6H49.3V102.5A2,2 0 0 0 47.3,100.5Z"/></g></svg>
<div class="abs" style="left:178px;top:2046.7px;width:425px;height:130.7px;border-radius:31px;background:#16896a"></div>
<div class="t " style="left:187.8px;top:2079.3px;font-size:33.72px;line-height:33.72px;font-weight:400;color:#fff;transform:scaleX(1.1037)">Bertambah 0.005% Dari</div>
<div class="t " style="left:222.6px;top:2110.5px;font-size:33.72px;line-height:33.72px;font-weight:400;color:#fff;transform:scaleX(1.1312)">Tahun Sebelumnya</div>
<div class="t  b" style="left:794.5px;top:1799.8px;font-size:32.41px;line-height:32.41px;font-weight:700;color:#505050;transform:scaleX(1.0356)">Laju</div>
<div class="t  b" style="left:708.5px;top:1831.0px;font-size:32.41px;line-height:32.41px;font-weight:700;color:#505050;transform:scaleX(1.1537)">Pertumbuhan</div>
<div class="t  b" style="left:741.5px;top:1862.2px;font-size:32.41px;line-height:32.41px;font-weight:700;color:#505050;transform:scaleX(1.1170)">Penduduk</div>
<div class="t  b" style="left:1029.1px;top:1799.8px;font-size:32.41px;line-height:32.41px;font-weight:700;color:#505050;transform:scaleX(1.1170)">Penduduk</div>
<div class="t  b" style="left:1080.1px;top:1831.0px;font-size:32.41px;line-height:32.41px;font-weight:700;color:#505050;transform:scaleX(1.0662)">Usia</div>
<div class="t  b" style="left:1036.4px;top:1862.2px;font-size:32.41px;line-height:32.41px;font-weight:700;color:#505050;transform:scaleX(1.1276)">Produktif</div>
<div class="t  b" style="left:1306.5px;top:1799.8px;font-size:32.41px;line-height:32.41px;font-weight:700;color:#505050;transform:scaleX(1.1197)">Persentase</div>
<div class="t  b" style="left:1316.0px;top:1831.0px;font-size:32.41px;line-height:32.41px;font-weight:700;color:#505050;transform:scaleX(1.1144)">Penduduk</div>
<div class="t  b" style="left:1347.3px;top:1862.2px;font-size:32.41px;line-height:32.41px;font-weight:700;color:#505050;transform:scaleX(1.0907)">Lansia</div>
<svg class="abs" style="left:708.6px;top:1958px" width="240" height="240" viewBox="708.6 1958 240 240"><circle cx="828.6" cy="2078" r="102.6" fill="none" stroke="#fff" stroke-width="29.3"/><circle cx="828.6" cy="2078" r="102.6" fill="none" stroke="#16896a" stroke-width="29.3" stroke-dasharray="2.58 644.65" transform="rotate(-90 828.6 2078)"/></svg><div class="t  b" style="left:756.6px;top:2046.0px;font-size:63.23px;line-height:63.23px;font-weight:700;color:#505050;transform:scaleX(0.9992)">0,3%</div>
<svg class="abs" style="left:996.3px;top:1952px" width="240" height="240" viewBox="996.3 1952 240 240"><circle cx="1116.3" cy="2072" r="102.6" fill="none" stroke="#fff" stroke-width="29.3"/><circle cx="1116.3" cy="2072" r="102.6" fill="none" stroke="#16896a" stroke-width="29.3" stroke-dasharray="473.82 644.65" transform="rotate(-90 1116.3 2072)"/></svg><div class="t  b" style="left:1028.0px;top:2041.0px;font-size:63.23px;line-height:63.23px;font-weight:700;color:#505050;transform:scaleX(0.9845)">73,5%</div>
<svg class="abs" style="left:1283.2px;top:1952px" width="240" height="240" viewBox="1283.2 1952 240 240"><circle cx="1403.2" cy="2072" r="102.6" fill="none" stroke="#fff" stroke-width="29.3"/><circle cx="1403.2" cy="2072" r="102.6" fill="none" stroke="#16896a" stroke-width="29.3" stroke-dasharray="34.81 644.65" transform="rotate(-90 1403.2 2072)"/></svg><div class="t  b" style="left:1330.7px;top:2041.0px;font-size:63.23px;line-height:63.23px;font-weight:700;color:#505050;transform:scaleX(1.0062)">5,4%</div>
<svg class="abs" style="left:300px;top:2330px" width="1220" height="380" viewBox="300 2330 1220 380"><rect x="521.6" y="2339" width="2" height="360.5" fill="#b7c7bd"/><rect x="716.6" y="2339" width="2" height="360.5" fill="#b7c7bd"/><rect x="911.6" y="2339" width="2" height="360.5" fill="#b7c7bd"/><rect x="1106.6" y="2339" width="2" height="360.5" fill="#b7c7bd"/><rect x="1301.6" y="2339" width="2" height="360.5" fill="#b7c7bd"/><rect x="1496.6" y="2339" width="2" height="360.5" fill="#b7c7bd"/><rect x="326.4" y="2339" width="2" height="360.5" fill="#a9b9af"/><rect x="327.6" y="2339.7" width="1072.0" height="82.8" fill="#f36f17"/><rect x="327.6" y="2432" width="1102.4" height="82.8" fill="#f36f17"/><rect x="327.6" y="2524" width="473.4" height="82.8" fill="#f36f17"/><rect x="327.6" y="2616.3" width="51.6" height="82.8" fill="#f36f17"/></svg>
<div class="t  b" style="left:203.8px;top:2363.3px;font-size:33.87px;line-height:33.87px;font-weight:700;color:#505050;transform:scaleX(1.0302)">0 – 24</div>
<div class="t  b" style="left:180.8px;top:2455.7px;font-size:33.87px;line-height:33.87px;font-weight:700;color:#505050;transform:scaleX(1.0620)">25 – 49</div>
<div class="t  b" style="left:183.3px;top:2547.9px;font-size:33.87px;line-height:33.87px;font-weight:700;color:#505050;transform:scaleX(1.0399)">50 – 74</div>
<div class="t  b" style="left:233.3px;top:2640.8px;font-size:33.87px;line-height:33.87px;font-weight:700;color:#505050;transform:scaleX(1.0096)">75 +</div>
<div class="t  b" style="left:318.8px;top:2715.5px;font-size:33.87px;line-height:33.87px;font-weight:700;color:#505050;transform:scaleX(1.0884)">0</div>
<div class="t  b" style="left:458.0px;top:2715.5px;font-size:33.87px;line-height:33.87px;font-weight:700;color:#505050;transform:scaleX(1.1503)">200000</div>
<div class="t  b" style="left:652.5px;top:2715.5px;font-size:33.87px;line-height:33.87px;font-weight:700;color:#505050;transform:scaleX(1.1592)">400000</div>
<div class="t  b" style="left:847.5px;top:2715.5px;font-size:33.87px;line-height:33.87px;font-weight:700;color:#505050;transform:scaleX(1.1592)">600000</div>
<div class="t  b" style="left:1043.5px;top:2715.5px;font-size:33.87px;line-height:33.87px;font-weight:700;color:#505050;transform:scaleX(1.1592)">800000</div>
<div class="t  b" style="left:1231.5px;top:2715.5px;font-size:33.87px;line-height:33.87px;font-weight:700;color:#505050;transform:scaleX(1.1035)">1000000</div>
<div class="t  b" style="left:1426.7px;top:2715.5px;font-size:33.87px;line-height:33.87px;font-weight:700;color:#505050;transform:scaleX(1.0815)">1200000</div>
<svg class="abs" style="left:230px;top:2930px" width="780" height="440" viewBox="230 2930 780 440"><defs><g id="pp"><ellipse cx="0" cy="14.7" rx="12.9" ry="14.7"/><path d="M-8.5,33.3H8.5C15.5,33.3 18.5,38 20.5,43.5L36.2,81Q37,82.8 35,82.8H28.5Q24.5,82.8 22.8,78.4L12.8,57L20.6,129.5Q20.9,132.9 17.5,132.9H12.5Q8.3,132.9 7.5,127L0,84.7L-7.5,127Q-8.3,132.9 -12.5,132.9H-17.5Q-20.9,132.9 -20.6,129.5L-12.8,57L-22.8,78.4Q-24.5,82.8 -28.5,82.8H-35Q-37,82.8 -36.2,81L-20.5,43.5C-18.5,38 -15.5,33.3 -8.5,33.3Z"/></g></defs><use href="#pp" x="275.3" y="2938.8" fill="#16896a"/><use href="#pp" x="361.0" y="2938.8" fill="#16896a"/><use href="#pp" x="446.7" y="2938.8" fill="#16896a"/><use href="#pp" x="532.4" y="2938.8" fill="#16896a"/><use href="#pp" x="618.1" y="2938.8" fill="#16896a"/><use href="#pp" x="703.8" y="2938.8" fill="#16896a"/><use href="#pp" x="789.5" y="2938.8" fill="#16896a"/><use href="#pp" x="875.2" y="2938.8" fill="#16896a"/><use href="#pp" x="960.9" y="2938.8" fill="#16896a"/><use href="#pp" x="275.3" y="3083.1" fill="#16896a"/><use href="#pp" x="361.0" y="3083.1" fill="#16896a"/><use href="#pp" x="446.7" y="3083.1" fill="#16896a"/><use href="#pp" x="532.4" y="3083.1" fill="#16896a"/><use href="#pp" x="618.1" y="3083.1" fill="#16896a"/><use href="#pp" x="703.8" y="3083.1" fill="#16896a"/><use href="#pp" x="789.5" y="3083.1" fill="#16896a"/><use href="#pp" x="875.2" y="3083.1" fill="#16896a"/><use href="#pp" x="960.9" y="3083.1" fill="#16896a"/><use href="#pp" x="275.3" y="3227.4" fill="#16896a"/><use href="#pp" x="361.0" y="3227.4" fill="#16896a"/><use href="#pp" x="446.7" y="3227.4" fill="#f36f17"/><use href="#pp" x="532.4" y="3227.4" fill="#f36f17"/><use href="#pp" x="618.1" y="3227.4" fill="#f36f17"/><use href="#pp" x="703.8" y="3227.4" fill="#f36f17"/><use href="#pp" x="789.5" y="3227.4" fill="#f36f17"/><use href="#pp" x="875.2" y="3227.4" fill="#f36f17"/><use href="#pp" x="960.9" y="3227.4" fill="#f36f17"/></svg>
<div class="t " style="left:1057.0px;top:3006.4px;font-size:47.97px;line-height:47.97px;font-weight:400;color:#505050;transform:scaleX(1.1281)">Penduduk usia</div>
<div class="t " style="left:1057.0px;top:3063.4px;font-size:47.97px;line-height:47.97px;font-weight:400;color:#505050;transform:scaleX(1.2144)">non-produktif</div>
<div class="t " style="left:1057.0px;top:3120.4px;font-size:47.97px;line-height:47.97px;font-weight:400;color:#505050;transform:scaleX(1.1323)">(0–14 tahun)</div>
<div class="t " style="left:1057.0px;top:3177.4px;font-size:47.97px;line-height:47.97px;font-weight:400;color:#505050;transform:scaleX(1.1085)">sebesar 22,66</div>
<div class="t " style="left:1057.0px;top:3234.4px;font-size:47.97px;line-height:47.97px;font-weight:400;color:#505050;transform:scaleX(1.1189)">persen di 2020.</div>
<div class="t  b" style="left:537.9px;top:3519.0px;font-size:34.01px;line-height:34.01px;font-weight:700;color:#505050;transform:scaleX(1.0075)">Indeks Pembangunan Manusia</div>
<svg class="abs" style="left:557.5px;top:3662.6px" width="220" height="112" viewBox="557.5 3662.6 220 112"><path d="M577.7,3772.6A89.8,89.8 0 0 1 757.3,3772.6" fill="none" stroke="#fff" stroke-width="25.5"/><path d="M577.7,3772.6A89.8,89.8 0 0 1 743.77,3725.20" fill="none" stroke="#16896a" stroke-width="25.5"/></svg><div class="t  b" style="left:637.4px;top:3624.9px;font-size:27.62px;line-height:27.62px;font-weight:700;color:#505050;transform:scaleX(0.9815)">2019</div><div class="t  b" style="left:611.8px;top:3728.0px;font-size:41.86px;line-height:41.86px;font-weight:700;color:#505050;transform:scaleX(0.9385)">82,2%</div>
<svg class="abs" style="left:831.5px;top:3662.6px" width="220" height="112" viewBox="831.5 3662.6 220 112"><path d="M851.7,3772.6A89.8,89.8 0 0 1 1031.3,3772.6" fill="none" stroke="#fff" stroke-width="25.5"/><path d="M851.7,3772.6A89.8,89.8 0 0 1 1017.77,3725.20" fill="none" stroke="#16896a" stroke-width="25.5"/></svg><div class="t  b" style="left:907.3px;top:3624.9px;font-size:27.62px;line-height:27.62px;font-weight:700;color:#505050;transform:scaleX(1.1133)">2020</div><div class="t  b" style="left:885.8px;top:3728.0px;font-size:41.86px;line-height:41.86px;font-weight:700;color:#505050;transform:scaleX(0.9385)">82,2%</div>
<div class="abs" style="left:551px;top:3913px;width:565px;height:108.5px;border-radius:55px;background:#f36f17"></div>
<svg class="abs" style="left:620px;top:3944px" width="62" height="58" viewBox="620 3944 62 58" fill="none" stroke="#fff" stroke-width="3.2" stroke-linejoin="round" stroke-linecap="round"><path d="M637.5,3958.5Q627,3958.5 627,3968V3979Q627,3988 634,3988.5V3995.5L641,3988.5H650Q657,3988.5 657.5,3982"/><path d="M646,3951H668Q675.5,3951 675.5,3958.5V3970Q675.5,3977.5 668,3977.5H667.5V3984L660,3977.5H646Q638.5,3977.5 638.5,3970V3958.5Q638.5,3951 646,3951Z"/></svg>
<svg class="abs" style="left:685px;top:3945px" width="420" height="45" viewBox="685 3945 420 45" fill="#fff" role="img" aria-label="PUTRI AMELIA DIVAIO"><title>PUTRI AMELIA DIVAIO</title><g transform="translate(690.2,3949.6) scale(0.2622,0.2722)"><path d="M3.5,0H41A33,33 0 0 1 74,33V56A30,30 0 0 1 44,86H0V3.5A3.5,3.5 0 0 1 3.5,0ZM3.5,0H21.2A3.5,3.5 0 0 1 24.7,3.5V125.1A3.5,3.5 0 0 1 21.2,128.6H3.5A3.5,3.5 0 0 1 0,125.1V3.5A3.5,3.5 0 0 1 3.5,0ZM26.7,25.5A2,2 0 0 0 24.7,27.5V58.5A2,2 0 0 0 26.7,60.5H33.2A16,16 0 0 0 49.2,44.5V41.5A16,16 0 0 0 33.2,25.5Z"/></g><g transform="translate(713.4,3949.6) scale(0.2662,0.2722)"><path d="M3.5,0H67.5A3.5,3.5 0 0 1 71,3.5V104.1A26,26 0 0 1 45,130.1H26A26,26 0 0 1 0,104.1V3.5A3.5,3.5 0 0 1 3.5,0ZM24.8,0V94.9A10.7,10.7 0 0 0 35.5,105.6H35.5A10.7,10.7 0 0 0 46.2,94.9V0Z"/></g><g transform="translate(734,3949.6) scale(0.2682,0.2722)"><path d="M3.5,0H62.5A3.5,3.5 0 0 1 66,3.5V21.9A3.5,3.5 0 0 1 62.5,25.4H3.5A3.5,3.5 0 0 1 0,21.9V3.5A3.5,3.5 0 0 1 3.5,0ZM24.3,0H41.8A3.5,3.5 0 0 1 45.3,3.5V125.1A3.5,3.5 0 0 1 41.8,128.6H24.3A3.5,3.5 0 0 1 20.8,125.1V3.5A3.5,3.5 0 0 1 24.3,0Z"/></g><g transform="translate(755,3949.6) scale(0.2641,0.2722)"><path d="M3.5,0H43.5A33,33 0 0 1 76.5,33V125.1A3.5,3.5 0 0 1 73,128.6H3.5A3.5,3.5 0 0 1 0,125.1V3.5A3.5,3.5 0 0 1 3.5,0ZM26.7,25.5A2,2 0 0 0 24.7,27.5V58A2,2 0 0 0 26.7,60H35.2A16,16 0 0 0 51.2,44V41.5A16,16 0 0 0 35.2,25.5ZM33.7,85A9,9 0 0 0 24.7,94V128.6H51.2V94A9,9 0 0 0 42.2,85ZM76.5,69L71,76.5L76.5,84Z"/></g><g transform="translate(779.5,3949.6) scale(0.2651,0.2722)"><path d="M3.5,0H21.4A3.5,3.5 0 0 1 24.9,3.5V125.1A3.5,3.5 0 0 1 21.4,128.6H3.5A3.5,3.5 0 0 1 0,125.1V3.5A3.5,3.5 0 0 1 3.5,0Z"/></g><g transform="translate(810.6,3949.6) scale(0.2595,0.2722)"><path d="M36,0H69A5,5 0 0 1 74,5V125.1A3.5,3.5 0 0 1 70.5,128.6H3.5A3.5,3.5 0 0 1 0,125.1V36A36,36 0 0 1 36,0ZM39.7,25.5A15,15 0 0 0 24.7,40.5V74A2,2 0 0 0 26.7,76H47.3A2,2 0 0 0 49.3,74V27.5A2,2 0 0 0 47.3,25.5ZM26.7,100.5A2,2 0 0 0 24.7,102.5V128.6H49.3V102.5A2,2 0 0 0 47.3,100.5Z"/></g><g transform="translate(833.4,3949.6) scale(0.3027,0.2722)"><path d="M20,0H38.2A30,30 0 0 1 68.2,30V125.1A3.5,3.5 0 0 1 64.7,128.6H3.5A3.5,3.5 0 0 1 0,125.1V20A20,20 0 0 1 20,0ZM71.8,0H90A20,20 0 0 1 110,20V125.1A3.5,3.5 0 0 1 106.5,128.6H45.3A3.5,3.5 0 0 1 41.8,125.1V30A30,30 0 0 1 71.8,0ZM34.1,25.5A7.7,7.7 0 0 0 26.4,33.2V128.6H41.8V33.2A7.7,7.7 0 0 0 34.1,25.5ZM75.9,25.5A7.7,7.7 0 0 0 68.2,33.2V128.6H83.6V33.2A7.7,7.7 0 0 0 75.9,25.5Z"/></g><g transform="translate(870.6,3949.6) scale(0.2657,0.2722)"><path d="M70,12.7H45A32,32 0 0 0 13,44.7V84A32,32 0 0 0 45,116H70" fill="none" stroke="#fff" stroke-width="25.4" stroke-linejoin="round"/><path d="M14,64.3H64" fill="none" stroke="#fff" stroke-width="24" stroke-linejoin="round"/></g><g transform="translate(893.1,3949.6) scale(0.2643,0.2722)"><path d="M3.5,0H21.4A3.5,3.5 0 0 1 24.9,3.5V125.1A3.5,3.5 0 0 1 21.4,128.6H3.5A3.5,3.5 0 0 1 0,125.1V3.5A3.5,3.5 0 0 1 3.5,0ZM3.5,103.6H52.5A3.5,3.5 0 0 1 56,107.1V125.1A3.5,3.5 0 0 1 52.5,128.6H3.5A3.5,3.5 0 0 1 0,125.1V107.1A3.5,3.5 0 0 1 3.5,103.6Z"/></g><g transform="translate(912,3949.6) scale(0.2691,0.2722)"><path d="M3.5,0H21.4A3.5,3.5 0 0 1 24.9,3.5V125.1A3.5,3.5 0 0 1 21.4,128.6H3.5A3.5,3.5 0 0 1 0,125.1V3.5A3.5,3.5 0 0 1 3.5,0Z"/></g><g transform="translate(922.9,3949.6) scale(0.2581,0.2722)"><path d="M36,0H69A5,5 0 0 1 74,5V125.1A3.5,3.5 0 0 1 70.5,128.6H3.5A3.5,3.5 0 0 1 0,125.1V36A36,36 0 0 1 36,0ZM39.7,25.5A15,15 0 0 0 24.7,40.5V74A2,2 0 0 0 26.7,76H47.3A2,2 0 0 0 49.3,74V27.5A2,2 0 0 0 47.3,25.5ZM26.7,100.5A2,2 0 0 0 24.7,102.5V128.6H49.3V102.5A2,2 0 0 0 47.3,100.5Z"/></g><g transform="translate(958.5,3949.6) scale(0.2632,0.2722)"><path d="M3.5,0H40A55,55 0 0 1 95,55V73.6A55,55 0 0 1 40,128.6H3.5A3.5,3.5 0 0 1 0,125.1V3.5A3.5,3.5 0 0 1 3.5,0ZM26.7,25.5A2,2 0 0 0 24.7,27.5V101.1A2,2 0 0 0 26.7,103.1H35.5A34,34 0 0 0 69.5,69.1V59.5A34,34 0 0 0 35.5,25.5Z"/></g><g transform="translate(988,3949.6) scale(0.2811,0.2722)"><path d="M3.5,0H21.4A3.5,3.5 0 0 1 24.9,3.5V125.1A3.5,3.5 0 0 1 21.4,128.6H3.5A3.5,3.5 0 0 1 0,125.1V3.5A3.5,3.5 0 0 1 3.5,0Z"/></g><g transform="translate(999,3949.6) scale(0.2784,0.2722)"><path d="M3.5,0H70.5A3.5,3.5 0 0 1 74,3.5V92.6A36,36 0 0 1 38,128.6H5A5,5 0 0 1 0,123.6V3.5A3.5,3.5 0 0 1 3.5,0ZM24.7,0V101.1A2,2 0 0 0 26.7,103.1H34.3A15,15 0 0 0 49.3,88.1V0Z"/></g><g transform="translate(1023,3949.6) scale(0.2784,0.2722)"><path d="M36,0H69A5,5 0 0 1 74,5V125.1A3.5,3.5 0 0 1 70.5,128.6H3.5A3.5,3.5 0 0 1 0,125.1V36A36,36 0 0 1 36,0ZM39.7,25.5A15,15 0 0 0 24.7,40.5V74A2,2 0 0 0 26.7,76H47.3A2,2 0 0 0 49.3,74V27.5A2,2 0 0 0 47.3,25.5ZM26.7,100.5A2,2 0 0 0 24.7,102.5V128.6H49.3V102.5A2,2 0 0 0 47.3,100.5Z"/></g><g transform="translate(1048.4,3949.6) scale(0.2811,0.2722)"><path d="M3.5,0H21.4A3.5,3.5 0 0 1 24.9,3.5V125.1A3.5,3.5 0 0 1 21.4,128.6H3.5A3.5,3.5 0 0 1 0,125.1V3.5A3.5,3.5 0 0 1 3.5,0Z"/></g><g transform="translate(1059.4,3949.6) scale(0.2738,0.2722)"><circle cx="66.3" cy="64.3" r="53.5" fill="none" stroke="#fff" stroke-width="25.6"/></g></svg>
</body></html>
